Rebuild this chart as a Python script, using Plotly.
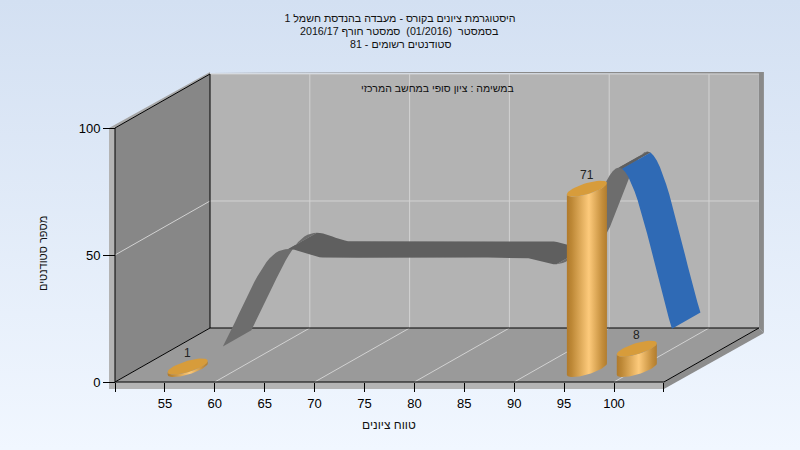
import math
import plotly.graph_objects as go

# ---- data ----
categories = [55, 60, 65, 70, 75, 80, 85, 90, 95, 100]
bar_x = [55, 95, 100]
bar_values = [1, 71, 8]
line_values = [1, 37, 36, 36, 36, 36, 36, 36, 71, 8]
x_ticks = [50, 55, 60, 65, 70, 75, 80, 85, 90, 95, 100, 105]
x_tick_labels = ["", "55", "60", "65", "70", "75", "80", "85", "90", "95", "100", ""]
y_ticks = [0, 50, 100]
grid_x = [60, 70, 80, 90, 100]
grid_y = [50, 100]

title_lines = [
    "היסטוגרמת ציונים בקורס - מעבדה בהנדסת חשמל 1",
    "בסמסטר\u00a0 (01/2016)\u00a0 סמסטר חורף 2016/17",
    "סטודנטים רשומים - 81",
]
subtitle = "במשימה : ציון סופי במחשב המרכזי"
x_title = "טווח ציונים"
y_title = "מספר סטודנטים"

# ---- oblique projection in axis units ----
W, H = 800, 450
PX_X, PX_Y = 9.98, 2.54          # pixels per axis unit
X0_PX, Y0_PX = 115, 382          # pixel of x=50, y=0
DX, DY = 95 / PX_X, 54 / PX_Y    # depth vector
XMIN, XMAX, YMAX = 50, 105, 100
x_range = [50 - X0_PX / PX_X, 50 + (W - X0_PX) / PX_X]
y_range = [-(H - Y0_PX) / PX_Y, Y0_PX / PX_Y]


def P(x, y, d=0.0):
    return x + d * DX, y + d * DY


fig = go.Figure()


def poly(points, color=None, gradient=None):
    xs = [p[0] for p in points] + [points[0][0]]
    ys = [p[1] for p in points] + [points[0][1]]
    kw = dict(fillgradient=gradient) if gradient else dict(fillcolor=color)
    fig.add_trace(go.Scatter(x=xs, y=ys, mode="lines", fill="toself", line=dict(width=0),
                             hoverinfo="skip", showlegend=False, **kw))


def lines(segments, color, width=1):
    xs, ys = [], []
    for a, b in segments:
        xs += [a[0], b[0], None]
        ys += [a[1], b[1], None]
    fig.add_trace(go.Scatter(x=xs, y=ys, mode="lines", line=dict(color=color, width=width),
                             hoverinfo="skip", showlegend=False))


# page background
poly([(x_range[0], y_range[0]), (x_range[1], y_range[0]), (x_range[1], y_range[1]), (x_range[0], y_range[1])],
     gradient=dict(type="vertical", colorscale=[[0, "#f1f7ff"], [1, "#d3e0f2"]]))

# outer rim of the box
bx, by = 6 / PX_X, 7 / PX_Y      # front rim thickness
tx, ty = 5 / PX_X, 2 / PX_Y      # back rim thickness
poly([(XMIN - bx, -by), (XMAX, -by), (XMAX, 0), (XMIN - bx, 0)], "#b4b4b4")
poly([(XMIN - bx, -by), (XMIN, -by), (XMIN, YMAX), (XMIN - bx, YMAX)], "#b4b4b4")
poly([(XMIN - bx, YMAX), P(XMIN, YMAX + ty, 1), P(XMIN, YMAX, 1), (XMIN, YMAX)], "#a6a6a6")
poly([P(XMIN, YMAX + ty, 1), P(XMAX + tx, YMAX + ty, 1), P(XMAX + tx, -ty * 2.5, 1), P(XMAX, 0, 1), P(XMAX, YMAX, 1)], "#8a8a8a")
poly([(XMAX, -by), P(XMAX + tx, -ty * 2.5, 1), P(XMAX, 0, 1), (XMAX, 0)], "#8d8d8d")

# walls and floor
poly([P(XMIN, 0, 1), P(XMAX, 0, 1), P(XMAX, YMAX, 1), P(XMIN, YMAX, 1)], "#b3b3b3")
poly([P(XMIN, 0, 0), P(XMIN, 0, 1), P(XMIN, YMAX, 1), P(XMIN, YMAX, 0)], "#878787")
poly([P(XMIN, 0, 0), P(XMAX, 0, 0), P(XMAX, 0, 1), P(XMIN, 0, 1)], "#9a9a9a")

# grid
grid = []
for gx in grid_x:
    grid.append((P(gx, 0, 0), P(gx, 0, 1)))
    grid.append((P(gx, 0, 1), P(gx, YMAX, 1)))
for gy in grid_y:
    grid.append((P(XMIN, gy, 1), P(XMAX, gy, 1)))
grid.append((P(XMIN, 50, 0), P(XMIN, 50, 1)))
lines(grid, "#d2d2d2")

# frame
frame = [
    (P(XMIN, 0, 0), P(XMAX, 0, 0)), (P(XMIN, 0, 1), P(XMAX, 0, 1)),
    (P(XMIN, 0, 0), P(XMIN, YMAX, 0)), (P(XMIN, 0, 1), P(XMIN, YMAX, 1)),
    (P(XMIN, 0, 0), P(XMIN, 0, 1)), (P(XMIN, YMAX, 0), P(XMIN, YMAX, 1)),
    (P(XMAX, 0, 0), P(XMAX, 0, 1)),
]
lines(frame, "#000000")

# ribbon (line series, smoothed like the original)
D1, D2 = 0.61, 0.91


def hermite(i, t):
    n = len(line_values)
    p1, p2 = line_values[i], line_values[i + 1]
    m1 = (p2 - line_values[i - 1]) / 2 if i > 0 else (p2 - p1)
    m2 = (line_values[i + 2] - p1) / 2 if i + 2 < n else (p2 - p1)
    t2, t3 = t * t, t * t * t
    return (2 * t3 - 3 * t2 + 1) * p1 + (t3 - 2 * t2 + t) * m1 + (-2 * t3 + 3 * t2) * p2 + (t3 - t2) * m2


STEPS = 16
runs = []
for i in range(len(categories) - 1):
    xa, xb = categories[i], categories[i + 1]
    last = i == len(categories) - 2
    for k in range(STEPS):
        t0, t1 = k / STEPS, (k + 1) / STEPS
        v0, v1 = hermite(i, t0), hermite(i, t1)
        xs0, xs1 = xa + (xb - xa) * t0, xa + (xb - xa) * t1
        color = "#2f6ab5" if last else ("#6d6d6d" if v1 > v0 + 0.05 else "#5f5f5f")
        if runs and runs[-1][0] == color:
            runs[-1][1].append((xs1, v1))
        else:
            runs.append((color, [(xs0, v0), (xs1, v1)]))

for color, pts in runs:
    poly([P(x, v, D1) for x, v in pts] + [P(x, v, D2) for x, v in reversed(pts)], color)

# cylinder bars
BAR_D = 0.24
RX = 1.43
RD = 0.148
BODY = [[0, "#b07a2c"], [0.12, "#bd8836"], [0.55, "#fdca7b"], [0.88, "#c48e3c"], [1, "#b27d2e"]]


def rim(x, v, a):
    return P(x + RX * math.cos(a), v, BAR_D + RD * math.sin(a))


theta0 = math.atan2(RD * DX, RX)
N = 48
for bx_val, val in zip(bar_x, bar_values):
    lower = [theta0 - math.pi + math.pi * j / N for j in range(N + 1)]
    body = [rim(bx_val, 0, a) for a in lower] + [rim(bx_val, val, a) for a in reversed(lower)]
    poly(body, gradient=dict(type="horizontal", colorscale=BODY))
    cap = [rim(bx_val, val, 2 * math.pi * j / N) for j in range(N)]
    poly(cap, "#d79c3b")
    cx, cy = P(bx_val, val, BAR_D)
    fig.add_annotation(x=cx, y=cy, text=str(val), showarrow=False, yshift=14,
                       font=dict(size=12, color="#222222"))


def paper_note(px, py, text, size=10.7, **kw):
    fig.add_annotation(xref="paper", yref="paper", x=px / W, y=1 - py / H, text=text, showarrow=False,
                       xanchor="center", yanchor="middle",
                       font=dict(family="Liberation Sans", size=size, color="#111111"), **kw)


paper_note(399, 31, title_lines[1])
paper_note(400, 44, title_lines[2])
paper_note(437, 88, subtitle, size=10.5)
paper_note(389, 425, x_title, size=12)
paper_note(43, 254, y_title, size=11, textangle=-90)

fig.update_layout(
    width=W, height=H, margin=dict(l=0, r=0, t=0, b=0),
    paper_bgcolor="#e4edf9", plot_bgcolor="rgba(0,0,0,0)", showlegend=False,
    font=dict(family="Liberation Sans", size=13, color="#000000"),
    title=dict(text=title_lines[0], x=0.5, xanchor="center", y=1 - 18 / H, yanchor="middle",
               font=dict(family="Liberation Sans", size=10.7, color="#111111")),
    xaxis=dict(range=x_range, domain=[0, 1], anchor="free", position=1 - Y0_PX / H,
               tickmode="array", tickvals=x_ticks, ticktext=x_tick_labels, ticks="outside", ticklen=9,
               tickcolor="#000000", showgrid=False, zeroline=False, showline=False),
    yaxis=dict(range=y_range, domain=[0, 1], anchor="free", position=X0_PX / W,
               tickmode="array", tickvals=y_ticks, ticks="outside", ticklen=12,
               tickcolor="#000000", showgrid=False, zeroline=False, showline=False),
)

fig.write_html("out.html", config=dict(displayModeBar=False),
               post_script="document.body.style.margin='0';document.body.style.overflow='hidden';")
